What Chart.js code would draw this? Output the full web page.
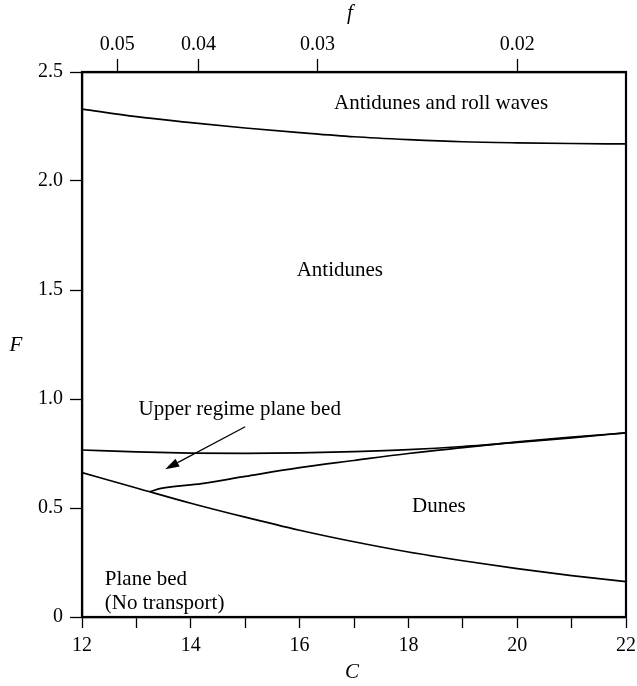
<!DOCTYPE html>
<html>
<head>
<meta charset="utf-8">
<script src="https://cdn.jsdelivr.net/npm/chart.js@4/dist/chart.umd.min.js"></script>
<style>
  html, body { margin: 0; padding: 0; background: #fff; }
  #wrap { width: 637px; height: 686px; }
</style>
</head>
<body>
<div id="wrap"><canvas id="regime"></canvas></div>
<script>
// C values along each boundary, F
var rollC = [12, 13, 14, 15, 16, 17, 18, 19, 20, 21, 22];
var rollF = [2.33, 2.295, 2.268, 2.243, 2.222, 2.203, 2.19, 2.18, 2.175, 2.172, 2.17];

var upperC = [12, 13, 14, 15, 16, 17, 18, 19, 20, 21, 22];
var upperF = [0.766, 0.757, 0.752, 0.751, 0.753, 0.759, 0.768, 0.782, 0.801, 0.822, 0.845];

var dunesC = [13.25, 13.45, 14.2, 15.0, 16.0, 17.0, 18.0, 19.0, 20.0, 21.0, 22.0];
var dunesF = [0.575, 0.59, 0.612, 0.645, 0.685, 0.718, 0.75, 0.777, 0.803, 0.825, 0.845];

var planeC = [12, 13, 14, 15, 16, 17, 18, 19, 20, 21, 22];
var planeF = [0.662, 0.592, 0.522, 0.458, 0.398, 0.345, 0.298, 0.258, 0.222, 0.19, 0.162];

// top axis: friction factor f, placed at C = sqrt(8/f)
var fTicks = [0.05, 0.04, 0.03, 0.02];
var fLabels = ['0.05', '0.04', '0.03', '0.02'];

var regionLabels = [
    { text: 'Antidunes and roll waves', c: 18.6, F: 2.355, align: 'center' },
    { text: 'Antidunes', c: 16.74, F: 1.59, align: 'center' },
    { text: 'Upper regime plane bed', c: 14.9, F: 0.95, align: 'center' },
    { text: 'Dunes', c: 18.56, F: 0.505, align: 'center' },
    { text: 'Plane bed', c: 12.42, F: 0.17, align: 'left' },
    { text: '(No transport)', c: 12.42, F: 0.06, align: 'left' }
];
var arrowFrom = { c: 15.0, F: 0.873 };
var arrowTo = { c: 13.53, F: 0.678 };

function pts(xs, ys) {
    return xs.map(function (x, i) { return { x: x, y: ys[i] }; });
}

var serif = '"Liberation Serif", "DejaVu Serif", serif';

function line(xs, ys) {
    return {
        data: pts(xs, ys),
        showLine: true,
        borderColor: '#000',
        borderWidth: 1.7,
        pointRadius: 0,
        cubicInterpolationMode: 'monotone',
        fill: false
    };
}

var annotate = {
    id: 'annotate',
    afterDraw: function (chart) {
        var ctx = chart.ctx, xs = chart.scales.x, ys = chart.scales.y, a = chart.chartArea;
        ctx.save();
        // frame
        ctx.strokeStyle = '#000';
        ctx.lineWidth = 2.2;
        ctx.strokeRect(a.left, a.top, a.right - a.left, a.bottom - a.top);

        ctx.fillStyle = '#000';
        ctx.textBaseline = 'middle';
        ctx.font = '21px ' + serif;
        regionLabels.forEach(function (l) {
            ctx.textAlign = l.align;
            ctx.fillText(l.text, xs.getPixelForValue(l.c), ys.getPixelForValue(l.F));
        });

        // arrow
        var x1 = xs.getPixelForValue(arrowFrom.c), y1 = ys.getPixelForValue(arrowFrom.F);
        var x2 = xs.getPixelForValue(arrowTo.c), y2 = ys.getPixelForValue(arrowTo.F);
        var ang = Math.atan2(y2 - y1, x2 - x1);
        var hl = 14, hw = 4.5;
        ctx.lineWidth = 1.2;
        ctx.beginPath();
        ctx.moveTo(x1, y1);
        ctx.lineTo(x2 - hl * Math.cos(ang), y2 - hl * Math.sin(ang));
        ctx.stroke();
        ctx.beginPath();
        ctx.moveTo(x2, y2);
        ctx.lineTo(x2 - hl * Math.cos(ang) + hw * Math.sin(ang), y2 - hl * Math.sin(ang) - hw * Math.cos(ang));
        ctx.lineTo(x2 - hl * Math.cos(ang) - hw * Math.sin(ang), y2 - hl * Math.sin(ang) + hw * Math.cos(ang));
        ctx.closePath();
        ctx.fill();

        // axis titles
        ctx.font = 'italic 21px ' + serif;
        ctx.textAlign = 'center';
        var mid = (a.left + a.right) / 2;
        ctx.fillText('f', mid - 4, 13);
        ctx.fillText('C', mid - 2, 672);
        ctx.fillText('F', 16, 345);
        ctx.restore();
    }
};

var tickFont = { family: serif, size: 20 };

new Chart(document.getElementById('regime'), {
    type: 'scatter',
    data: {
        datasets: [
            line(rollC, rollF),
            line(upperC, upperF),
            line(dunesC, dunesF),
            line(planeC, planeF)
        ]
    },
    options: {
        responsive: true,
        maintainAspectRatio: false,
        animation: false,
        layout: { padding: 0 },
        plugins: { legend: { display: false }, tooltip: { enabled: false } },
        scales: {
            x: {
                type: 'linear',
                position: 'bottom',
                min: 12,
                max: 22,
                ticks: {
                    stepSize: 1,
                    color: '#000',
                    font: tickFont,
                    padding: 6,
                    maxRotation: 0,
                    autoSkip: false,
                    callback: function (v) { return v % 2 === 0 ? String(v) : ''; }
                },
                grid: { drawOnChartArea: false, color: '#000', tickLength: 11, tickWidth: 1.3 },
                border: { color: '#000', width: 2.2 },
                afterFit: function (s) { s.height = 69; s.paddingRight = 11; s.paddingLeft = 0; }
            },
            x2: {
                type: 'linear',
                position: 'top',
                min: 12,
                max: 22,
                afterBuildTicks: function (s) {
                    s.ticks = fTicks.map(function (f) { return { value: Math.sqrt(8 / f) }; });
                },
                ticks: {
                    color: '#000',
                    font: tickFont,
                    padding: 2,
                    maxRotation: 0,
                    autoSkip: false,
                    callback: function (v, i) { return fLabels[i]; }
                },
                grid: { drawOnChartArea: false, color: '#000', tickLength: 13, tickWidth: 1.3 },
                border: { color: '#000', width: 2.2 },
                afterFit: function (s) { s.height = 72; s.paddingRight = 11; s.paddingLeft = 0; }
            },
            y: {
                type: 'linear',
                min: 0,
                max: 2.5,
                ticks: {
                    stepSize: 0.5,
                    color: '#000',
                    font: tickFont,
                    padding: 7,
                    callback: function (v) { return v === 0 ? '0' : v.toFixed(1); }
                },
                grid: { drawOnChartArea: false, color: '#000', tickLength: 12, tickWidth: 1.3 },
                border: { color: '#000', width: 2.2 },
                afterFit: function (s) { s.width = 82; s.paddingTop = 0; s.paddingBottom = 0; }
            }
        }
    },
    plugins: [annotate]
});
</script>
</body>
</html>
